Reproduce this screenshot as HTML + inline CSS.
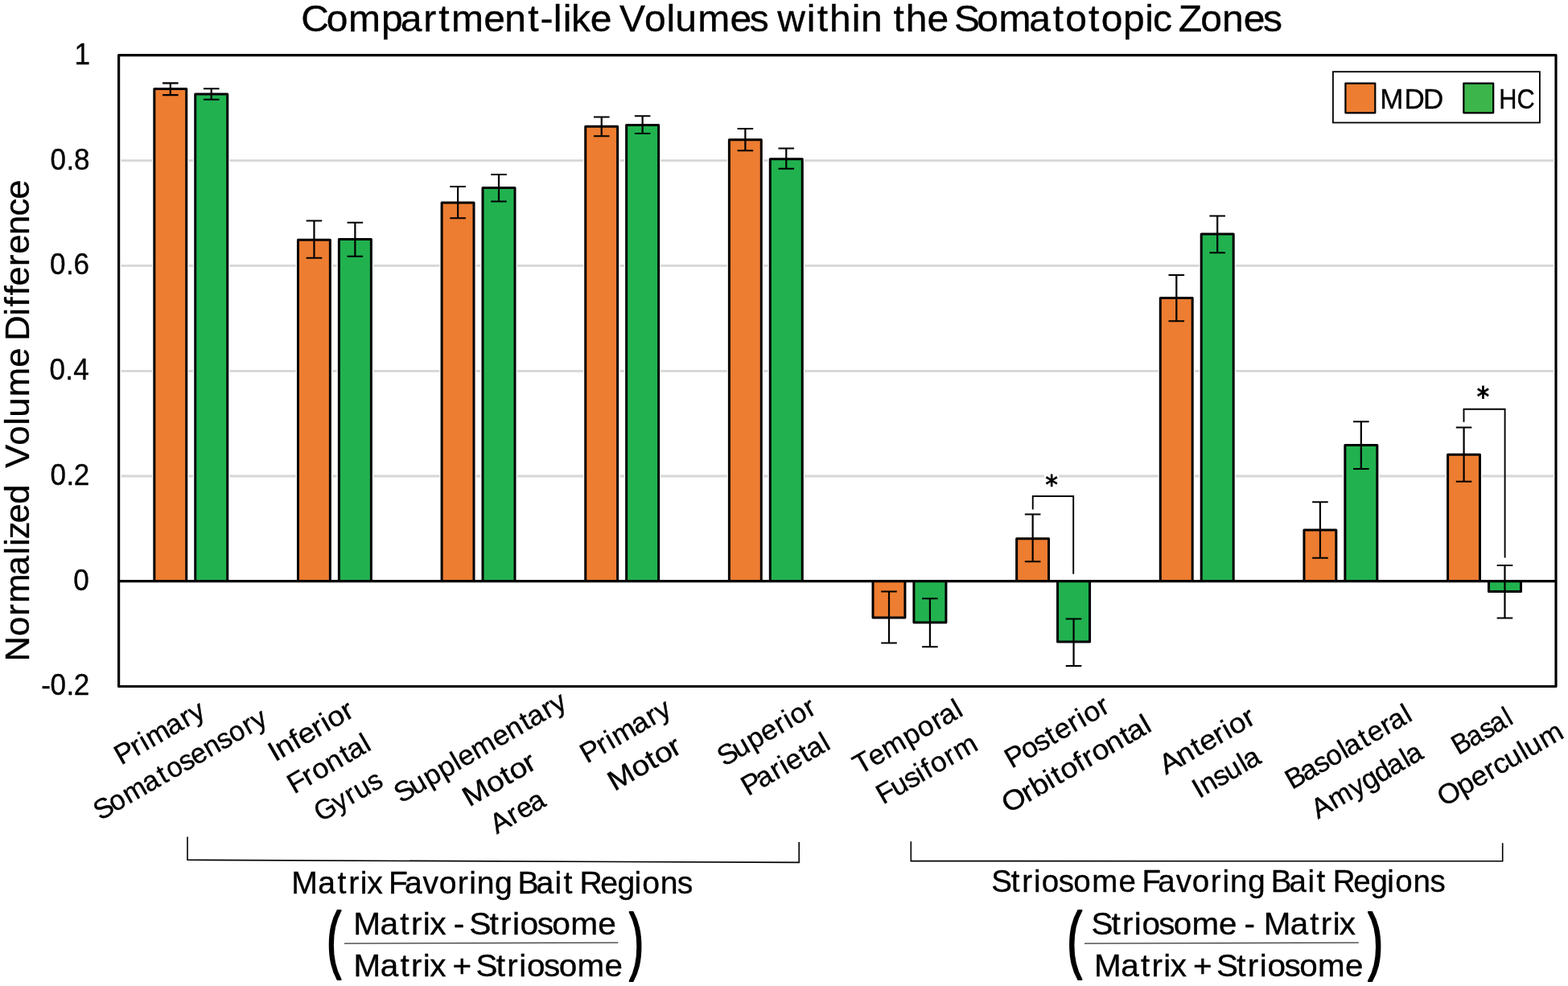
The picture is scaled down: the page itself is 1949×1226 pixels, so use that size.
<!DOCTYPE html>
<html lang="en">
<head>
<meta charset="utf-8">
<title>Compartment-like Volumes within the Somatotopic Zones</title>
<style>
html,body{margin:0;padding:0;background:#fff;}
body{width:1949px;height:1226px;overflow:hidden;}
svg{display:block;}
text{font-family:"Liberation Sans", sans-serif;fill:#000;white-space:pre;}
</style>
</head>
<body>
<svg width="1949" height="1226" viewBox="0 0 1949 1226">
<rect x="0" y="0" width="1949" height="1226" fill="#ffffff"/>
<g stroke="#D6D6D6" stroke-width="2.8" fill="none">
<line x1="150.6" y1="199.6" x2="1931" y2="199.6"/>
<line x1="150.6" y1="330.4" x2="1931" y2="330.4"/>
<line x1="150.6" y1="461.3" x2="1931" y2="461.3"/>
<line x1="150.6" y1="592" x2="1931" y2="592"/>
</g>
<g fill="#fff">
<rect x="189.12" y="107.9" width="45.3" height="614.7"/>
<rect x="240.02" y="114.3" width="45.4" height="608.3"/>
<rect x="367.76" y="295.55" width="45.3" height="427.05"/>
<rect x="418.66" y="294.8" width="45.4" height="427.8"/>
<rect x="546.4" y="249.3" width="45.3" height="473.3"/>
<rect x="597.3" y="230.9" width="45.4" height="491.7"/>
<rect x="725.04" y="154.55" width="45.3" height="568.05"/>
<rect x="775.94" y="152.8" width="45.4" height="569.8"/>
<rect x="903.68" y="171.05" width="45.3" height="551.55"/>
<rect x="954.58" y="195.05" width="45.4" height="527.55"/>
<rect x="1260.96" y="667.05" width="45.3" height="55.55"/>
<rect x="1439.6" y="367.8" width="45.3" height="354.8"/>
<rect x="1490.5" y="288.3" width="45.4" height="434.3"/>
<rect x="1618.24" y="656.3" width="45.3" height="66.3"/>
<rect x="1669.14" y="550.8" width="45.4" height="171.8"/>
<rect x="1796.88" y="562.55" width="45.3" height="160.05"/>
</g>
<g stroke="#000" stroke-width="3" stroke-linejoin="round">
<rect x="191.82" y="110.6" width="39.9" height="612" fill="#ED7D31"/>
<rect x="242.72" y="117" width="40" height="605.6" fill="#21B24F"/>
<rect x="370.46" y="298.25" width="39.9" height="424.35" fill="#ED7D31"/>
<rect x="421.36" y="297.5" width="40" height="425.1" fill="#21B24F"/>
<rect x="549.1" y="252" width="39.9" height="470.6" fill="#ED7D31"/>
<rect x="600" y="233.6" width="40" height="489" fill="#21B24F"/>
<rect x="727.74" y="157.25" width="39.9" height="565.35" fill="#ED7D31"/>
<rect x="778.64" y="155.5" width="40" height="567.1" fill="#21B24F"/>
<rect x="906.38" y="173.75" width="39.9" height="548.85" fill="#ED7D31"/>
<rect x="957.28" y="197.75" width="40" height="524.85" fill="#21B24F"/>
<rect x="1085.02" y="722.6" width="39.9" height="45.4" fill="#ED7D31"/>
<rect x="1135.92" y="722.6" width="40" height="51.4" fill="#21B24F"/>
<rect x="1263.66" y="669.75" width="39.9" height="52.85" fill="#ED7D31"/>
<rect x="1314.56" y="722.6" width="40" height="75.4" fill="#21B24F"/>
<rect x="1442.3" y="370.5" width="39.9" height="352.1" fill="#ED7D31"/>
<rect x="1493.2" y="291" width="40" height="431.6" fill="#21B24F"/>
<rect x="1620.94" y="659" width="39.9" height="63.6" fill="#ED7D31"/>
<rect x="1671.84" y="553.5" width="40" height="169.1" fill="#21B24F"/>
<rect x="1799.58" y="565.25" width="39.9" height="157.35" fill="#ED7D31"/>
<rect x="1850.48" y="722.6" width="40" height="12.9" fill="#21B24F"/>
</g>
<line x1="147.6" y1="722.6" x2="1934" y2="722.6" stroke="#000" stroke-width="3.2"/>
<rect x="147.6" y="68.6" width="1786.4" height="784.9" fill="none" stroke="#000" stroke-width="3.2" stroke-linejoin="round"/>
<g stroke="#000" stroke-width="2.2" fill="none">
<path d="M202.02 103.4H221.62M211.82 103.4V118.1M202.02 118.1H221.62"/>
<path d="M252.92 110.25H272.52M262.72 110.25V123.75M252.92 123.75H272.52"/>
<path d="M380.66 274.5H400.26M390.46 274.5V320.75M380.66 320.75H400.26"/>
<path d="M431.56 276.75H451.16M441.36 276.75V318.75M431.56 318.75H451.16"/>
<path d="M559.3 232H578.9M569.1 232V271.25M559.3 271.25H578.9"/>
<path d="M610.2 217H629.8M620 217V250.5M610.2 250.5H629.8"/>
<path d="M737.94 145.5H757.54M747.74 145.5V169.25M737.94 169.25H757.54"/>
<path d="M788.84 144.25H808.44M798.64 144.25V166M788.84 166H808.44"/>
<path d="M916.58 160H936.18M926.38 160V187.25M916.58 187.25H936.18"/>
<path d="M967.48 184.5H987.08M977.28 184.5V209.75M967.48 209.75H987.08"/>
<path d="M1095.22 735.5H1114.82M1105.02 735.5V799.5M1095.22 799.5H1114.82"/>
<path d="M1146.12 744.25H1165.72M1155.92 744.25V804.25M1146.12 804.25H1165.72"/>
<path d="M1273.86 639.5H1293.46M1283.66 639.5V698.25M1273.86 698.25H1293.46"/>
<path d="M1324.76 769.5H1344.36M1334.56 769.5V828M1324.76 828H1344.36"/>
<path d="M1452.5 342H1472.1M1462.3 342V399.25M1452.5 399.25H1472.1"/>
<path d="M1503.4 268.5H1523M1513.2 268.5V314.25M1503.4 314.25H1523"/>
<path d="M1631.14 624.25H1650.74M1640.94 624.25V693.75M1631.14 693.75H1650.74"/>
<path d="M1682.04 524.25H1701.64M1691.84 524.25V583M1682.04 583H1701.64"/>
<path d="M1809.78 531.5H1829.38M1819.58 531.5V598.75M1809.78 598.75H1829.38"/>
<path d="M1860.68 703H1880.28M1870.48 703V768.5M1860.68 768.5H1880.28"/>
</g>
<g stroke="#000" stroke-width="1.9" fill="none" stroke-linejoin="miter">
<path d="M1283.75 633.5V617H1334.2V713.75"/>
<path d="M1819.5 524.8V508.8H1870.6V693.5"/>
</g>
<rect x="1656.9" y="89.2" width="257" height="63.3" fill="#fff" stroke="#000" stroke-width="1.8"/>
<rect x="1672.4" y="103.6" width="36.9" height="36.7" fill="#ED7D31" stroke="#000" stroke-width="2.2" stroke-linejoin="round"/>
<rect x="1819.3" y="103.6" width="36.9" height="36.7" fill="#3CB54A" stroke="#000" stroke-width="2.2" stroke-linejoin="round"/>
<text transform="translate(377.69 39.3) scale(1.0275 1)" x="-3.46 27.24 53.77 93.73 116.95 144.52 162.98 178.35 217.48 242.83 271.03 285.93 301.87 313.36 323.51 346.62 370.97 381.91 412.08 438.73 449.24 476.43 515.56 539.21 559.51 572.87 608.23 621.01 635.91 662.83 673.73 699.06 713.26 728.16 754.07 778.42 786.59 814.12 840.65 877.51 906.07 921.34 949.27 964.54 991.01 1017.51 1027.16 1048.61 1057.9 1084.75 1110.8 1136.71 1160.35" y="0" font-size="46.74" stroke="#000" stroke-width="0.35">Compartment-like Volumes within the Somatotopic Zones</text>
<text transform="translate(1713.71 135) scale(0.9815 1)" x="1.69 32.46 56.45" y="0" font-size="35.71" stroke="#000" stroke-width="0.35">MDD</text>
<text transform="translate(1862.4 135) scale(0.8580 1)" x="1.11 27.01" y="0" font-size="35.89" stroke="#000" stroke-width="0.35">HC</text>
<text transform="translate(360.39 1110.75) scale(1.0040 1)" x="1.93 34.69 58.94 72.48 87.07 95.41 114.09 122.24 142.11 164.44 184.52 207.45 222.04 231.51 253.59 273.15 282.06 304.79 327.92 338.86 350.74 358.76 384.25 405.51 426.39 436.16 458.42 479.42" y="0" font-size="39" stroke="#000" stroke-width="0.35">Matrix Favoring Bait Regions</text>
<text transform="translate(437.87 1161.75) scale(1.0349 1)" x="1.39 33.59 57.49 70.66 85.04 93.03 111.43 121.71 133.7 140.47 164.79 177.96 192.33 201.7 222.05 240.13 262.25 294.98" y="0" font-size="39.33" stroke="#000" stroke-width="0.35">Matrix - Striosome</text>
<text transform="translate(437.87 1213.75) scale(1.0287 1)" x="1.5 33.85 57.86 71.12 85.56 93.64 112.11 121.18 142.59 149.45 173.86 187.12 201.56 211.02 231.48 249.68 271.96 304.84" y="0" font-size="39.32" stroke="#000" stroke-width="0.35">Matrix + Striosome</text>
<text transform="translate(1235.08 1108.75) scale(0.9890 1)" x="-2.95 21.91 35.67 50.42 60.42 81.47 100.28 123.47 157.14 178.03 186.4 206.54 229.15 249.53 272.74 287.49 297.19 319.58 339.34 348.5 371.52 394.86 405.97 418.02 426.3 452.09 473.64 494.73 504.74 527.31 548.58" y="0" font-size="38.96" stroke="#000" stroke-width="0.35">Striosome Favoring Bait Regions</text>
<text transform="translate(1360.08 1161.75) scale(1.0349 1)" x="-3.39 20.72 33.78 48.03 57.32 77.51 95.44 117.37 149.82 170.03 180.23 192.12 203.61 235.54 259.24 272.3 286.56 294.49" y="0" font-size="39" stroke="#000" stroke-width="0.35">Striosome - Matrix</text>
<text transform="translate(1358.37 1213.75) scale(1.0287 1)" x="1.5 33.85 57.86 71.12 85.56 93.64 112.11 121.18 142.59 149.45 173.86 187.12 201.56 211.02 231.48 249.68 271.96 304.84" y="0" font-size="39.32" stroke="#000" stroke-width="0.35">Matrix + Striosome</text>
<text transform="translate(92.05 79.5) scale(0.9543 1)" x="0.4" y="0" font-size="36.77" stroke="#000" stroke-width="0.35">1</text>
<text transform="translate(62.82 210.5) scale(0.9537 1)" x="-0.25 20.62 30.69" y="0" font-size="36.77" stroke="#000" stroke-width="0.35">0.8</text>
<text transform="translate(62.22 341.3) scale(0.9537 1)" x="-0.25 20.62 30.72" y="0" font-size="36.77" stroke="#000" stroke-width="0.35">0.6</text>
<text transform="translate(61.62 472.2) scale(0.9537 1)" x="-0.25 20.62 31.01" y="0" font-size="36.77" stroke="#000" stroke-width="0.35">0.4</text>
<text transform="translate(62.82 602.9) scale(0.9537 1)" x="-0.25 20.62 30.4" y="0" font-size="36.77" stroke="#000" stroke-width="0.35">0.2</text>
<text transform="translate(91.45 733.5) scale(0.9543 1)" x="-0.25" y="0" font-size="36.77" stroke="#000" stroke-width="0.35">0</text>
<text transform="translate(51.03 864.4) scale(0.9554 1)" x="0.26 12.07 32.91 42.67" y="0" font-size="36.77" stroke="#000" stroke-width="0.35">-0.2</text>
<text transform="translate(36.25 821.94) rotate(-90) scale(1.0218 1)" x="-0.6 30.23 54.95 70.65 104.46 129.46 140.02 148.5 167.85 191.06 214.33 224.73 234.81 262.5 286.92 296.61 321.6 357.49 379.81 389.69 419.95 430.97 445.01 456.45 480.51 495.37 518.63 541.64 561.86" y="0" font-size="42.67" stroke="#000" stroke-width="0.35">Normalized  Volume Difference</text>
<text transform="translate(151.86 950.97) rotate(-30) scale(1.0148 1)" x="-1.61 20.37 33.27 41.98 69.69 90.42 102.56" y="0" font-size="34.78" stroke="#000" stroke-width="0.35">Primary</text>
<text transform="translate(126.7 1019.4) rotate(-30) scale(0.9924 1)" x="-2.67 18.47 39.09 67.33 89.14 101.07 119.79 135.91 155.44 174.36 191.09 211.74 224.2" y="0" font-size="34.78" stroke="#000" stroke-width="0.35">Somatosensory</text>
<text transform="translate(341.92 947.73) rotate(-30) scale(1.0737 1)" x="-0.16 8.68 28.41 38.02 56.82 69.18 76.95 96.25" y="0" font-size="34.78" stroke="#000" stroke-width="0.35">Inferior</text>
<text transform="translate(367.35 986.66) rotate(-30) scale(1.0277 1)" x="-2.09 17.9 30.51 49.89 70.86 79.95 100.25" y="0" font-size="34.78" stroke="#000" stroke-width="0.35">Frontal</text>
<text transform="translate(399.38 1022.18) rotate(-30) scale(0.9699 1)" x="-0.7 25.17 44.02 56.96 76.59" y="0" font-size="34.78" stroke="#000" stroke-width="0.35">Gyrus</text>
<text transform="translate(500.85 997.89) rotate(-30) scale(1.0151 1)" x="-2.86 17.28 37.72 57.54 77.42 85.38 104.89 134.3 153.39 174.56 183.83 204.55 216.68" y="0" font-size="34.78" stroke="#000" stroke-width="0.35">Supplementary</text>
<text transform="translate(583.24 1003.81) rotate(-30) scale(1.1173 1)" x="0.06 28.9 48.39 58.46 77.11" y="0" font-size="34.78" stroke="#000" stroke-width="0.35">Motor</text>
<text transform="translate(617.98 1037.18) rotate(-30) scale(0.9926 1)" x="-0.53 23.37 35.91 53.39" y="0" font-size="34.78" stroke="#000" stroke-width="0.35">Area</text>
<text transform="translate(731.02 948.89) rotate(-30) scale(1.0148 1)" x="-1.61 20.37 33.27 41.98 69.69 90.42 102.56" y="0" font-size="34.78" stroke="#000" stroke-width="0.35">Primary</text>
<text transform="translate(763.74 984.16) rotate(-30) scale(1.1173 1)" x="0.06 28.9 48.39 58.46 77.11" y="0" font-size="34.78" stroke="#000" stroke-width="0.35">Motor</text>
<text transform="translate(902.5 952) rotate(-30) scale(1.0087 1)" x="-2.81 17.45 38.02 57.33 77.16 90.12 98.76 119.13" y="0" font-size="34.78" stroke="#000" stroke-width="0.35">Superior</text>
<text transform="translate(931.14 989.55) rotate(-30) scale(1.0117 1)" x="-1.58 17.81 38.59 51.52 59.53 80.03 89.35 109.86" y="0" font-size="34.78" stroke="#000" stroke-width="0.35">Parietal</text>
<text transform="translate(1070.09 963.05) rotate(-30) scale(1.0153 1)" x="-1.46 18.31 37.81 67.85 87.62 107.87 118.38 138.84" y="0" font-size="34.78" stroke="#000" stroke-width="0.35">Temporal</text>
<text transform="translate(1099.3 999.71) rotate(-30) scale(1.0153 1)" x="-1.98 17.28 36.1 52.52 61.57 72.58 92.84 105.77" y="0" font-size="34.78" stroke="#000" stroke-width="0.35">Fusiform</text>
<text transform="translate(1258.67 955.06) rotate(-30) scale(1.0243 1)" x="-1.71 19.74 37.91 55.19 66.02 85.59 98.4 106.83 126.92" y="0" font-size="34.78" stroke="#000" stroke-width="0.35">Posterior</text>
<text transform="translate(1255.04 1010.84) rotate(-30) scale(1.0764 1)" x="-1.63 23.99 35.92 55.02 64.05 74.68 94.18 104.8 116.71 135.2 155.45 163.88 183.56" y="0" font-size="34.78" stroke="#000" stroke-width="0.35">Orbitofrontal</text>
<text transform="translate(1450.54 963.12) rotate(-30) scale(1.0665 1)" x="-1.3 20.54 40.93 51.15 70.05 82.47 90.34 109.75" y="0" font-size="34.78" stroke="#000" stroke-width="0.35">Anterior</text>
<text transform="translate(1490.24 993.4) rotate(-30) scale(0.9915 1)" x="0.21 10.21 29.15 45.31 66.15 72.72" y="0" font-size="34.78" stroke="#000" stroke-width="0.35">Insula</text>
<text transform="translate(1607.09 981.56) rotate(-30) scale(0.9993 1)" x="-1.15 19.21 38.27 54.87 75.09 81.56 103.26 114.47 134.46 145.19 165.88" y="0" font-size="34.78" stroke="#000" stroke-width="0.35">Basolateral</text>
<text transform="translate(1638.75 1018.36) rotate(-30) scale(0.9941 1)" x="-0.55 23.27 53.11 70.6 89.04 107.29 128.06 134.59" y="0" font-size="34.78" stroke="#000" stroke-width="0.35">Amygdala</text>
<text transform="translate(1812.95 939.07) rotate(-30) scale(0.9345 1)" x="-0.38 21.25 41.51 56.92 78.59" y="0" font-size="34.78" stroke="#000" stroke-width="0.35">Basal</text>
<text transform="translate(1795.91 1002.89) rotate(-30) scale(1.0214 1)" x="-0.99 25.32 44.39 64.01 75.5 92 112.41 120.31 140.69" y="0" font-size="34.78" stroke="#000" stroke-width="0.35">Operculum</text>
<g stroke="#000" stroke-width="1.6" fill="none">
<path d="M233 1040.5V1069.3L993.2 1072.4V1047"/>
<path d="M1132.3 1046.3V1070.6L1867.7 1070.8V1048.3"/>
</g>
<g stroke="#333" stroke-width="1.25" fill="none">
<path d="M428 1173.2L768.3 1172.2"/>
<path d="M1348 1173.2L1688.8 1172.2"/>
</g>
<text transform="translate(406.09 1198.98) scale(0.5923 1)" font-size="92.43" stroke="#000" stroke-width="2.2" stroke-linejoin="round">(</text>
<text transform="translate(781.89 1201.3) scale(0.5856 1)" font-size="93.27" stroke="#000" stroke-width="2.2" stroke-linejoin="round">)</text>
<text transform="translate(1326.22 1198.75) scale(0.6155 1)" font-size="92.12" stroke="#000" stroke-width="2.2" stroke-linejoin="round">(</text>
<text transform="translate(1700.17 1201.3) scale(0.6120 1)" font-size="93.27" stroke="#000" stroke-width="2.2" stroke-linejoin="round">)</text>
<rect x="1297.9" y="589.5" width="18.4" height="5" fill="#fff"/>
<text transform="translate(1299.62 612.68) scale(0.9412 1)" font-size="32.64" stroke="#000" stroke-width="1" style="font-family:'DejaVu Sans','Liberation Sans',sans-serif">*</text>
<text transform="translate(1835.82 504.68) scale(0.9114 1)" font-size="33.71" stroke="#000" stroke-width="1" style="font-family:'DejaVu Sans','Liberation Sans',sans-serif">*</text>
</svg>
</body>
</html>
